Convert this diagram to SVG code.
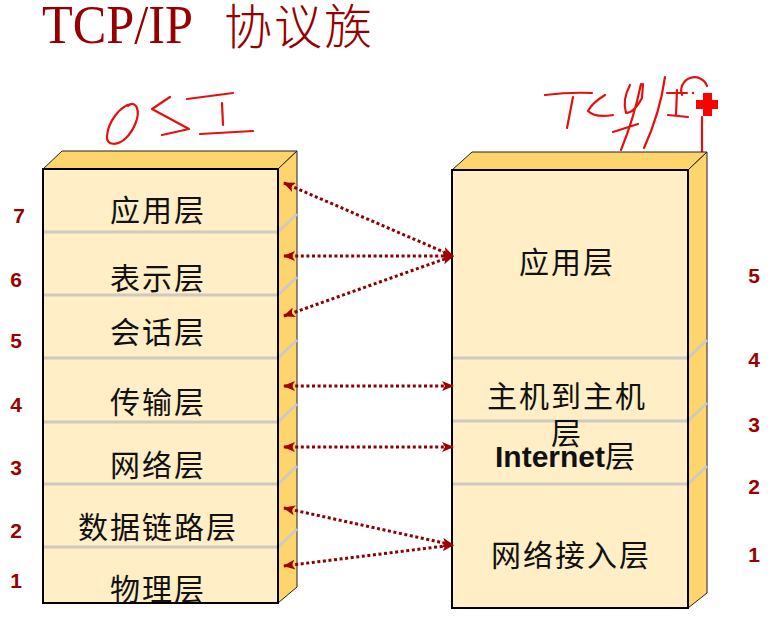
<svg xmlns="http://www.w3.org/2000/svg" width="784" height="621" viewBox="0 0 784 621">
<defs>
<style>
.front{fill:#FFEEC6;stroke:#000;stroke-width:2}
.face{fill:#FDD56C;stroke:#222;stroke-width:1}
.div{stroke:#CFCAC0;stroke-width:3;fill:none}
.lbl{font-family:"Noto Sans CJK SC","Noto Sans CJK JP",sans-serif;font-size:30px;fill:#111;text-anchor:middle;letter-spacing:2px}
.num{font-family:"Liberation Sans",Arial,sans-serif;font-weight:bold;font-size:21px;fill:#990000;text-anchor:middle}
.ink{fill:none;stroke:#E31010;stroke-width:2.2;stroke-linecap:round;stroke-linejoin:round}
.conn{fill:none;stroke:#8E0000;stroke-width:3;stroke-dasharray:3 2.6}
</style>
<marker id="ah" viewBox="0 0 12 10" refX="11" refY="5" markerWidth="12" markerHeight="10" markerUnits="userSpaceOnUse" orient="auto-start-reverse">
<path d="M0,0 L12,5 L0,10 L3,5 Z" fill="#A00000"/>
</marker>
</defs>

<g id="title">
<text x="42" y="43" font-family="Liberation Serif,serif" font-size="55" fill="#960000" textLength="151" lengthAdjust="spacingAndGlyphs">TCP/IP</text>
<text x="224" y="44" font-family="Noto Sans CJK SC,sans-serif" font-size="48" font-weight="300" fill="#960000" letter-spacing="2">协议族</text>
</g>

<g id="ink-annotations">
<path class="ink" d="M131,104 C120,106 108,122 107,136 C106,146 118,146 126,138 C134,130 140,116 137,108 C135,103 131,103 128,106"/>
<path class="ink" d="M170,97 L152,109 L189,129 L162,135"/>
<path class="ink" d="M187,99 L233,93 M222,103 L223,125 M200,134 L253,131"/>
<path class="ink" d="M545,95 Q570,92 592,93 M573,97 L567,128"/>
<path class="ink" d="M605,95 Q592,103 588,111 Q595,118 613,115"/>
<path class="ink" d="M630,85 Q622,100 626,113 Q634,113 642,98 L643,84 M641,84 Q634,118 621,150 M613,132 L638,124"/>
<path class="ink" d="M665,77 Q660,113 644,148"/>
<path class="ink" d="M667,93 L687,93 M677,90 L676,115 M668,115 L688,117"/>
<path class="ink" d="M682,95 A13,13 0 1,1 707,86"/>
<circle cx="693" cy="93" r="1.2" fill="#E31010"/>
<path class="ink" d="M702,117 L702,152"/>
<rect x="703" y="93" width="9" height="23" fill="#FF0000"/>
<rect x="696" y="100" width="22" height="9" fill="#FF0000"/>
</g>

<g id="osi-stack">
<polygon class="face" points="43,169 62,151 297,151 278,169"/>
<polygon class="face" points="278,169 297,151 297,587 278,603"/>
<rect class="front" x="43" y="169" width="235" height="434"/>
<path class="div" d="M44,232 H278 L297,214 M44,295 H278 L297,277 M44,358 H278 L297,340 M44,422 H278 L297,404 M44,484 H278 L297,466 M44,547 H278 L297,529"/>
<rect x="43" y="169" width="235" height="434" fill="none" stroke="#000" stroke-width="2"/>
</g>
<g id="osi-7"><text class="lbl" x="158" y="221">应用层</text></g>
<g id="osi-6"><text class="lbl" x="158" y="289">表示层</text></g>
<g id="osi-5"><text class="lbl" x="158" y="343">会话层</text></g>
<g id="osi-4"><text class="lbl" x="158" y="413">传输层</text></g>
<g id="osi-3"><text class="lbl" x="158" y="476">网络层</text></g>
<g id="osi-2"><text class="lbl" x="158" y="538">数据链路层</text></g>
<g id="osi-1"><text class="lbl" x="158" y="600">物理层</text></g>

<g id="tcpip-stack">
<polygon class="face" points="452,170 472,152 707,152 688,170"/>
<polygon class="face" points="688,170 707,152 707,593 688,608"/>
<rect class="front" x="452" y="170" width="236" height="438"/>
<path class="div" d="M453,358 H688 L707,340 M453,421 H688 L707,403 M453,484 H688 L707,466"/>
<rect x="452" y="170" width="236" height="438" fill="none" stroke="#000" stroke-width="2"/>
</g>
<g id="tcpip-app"><text class="lbl" x="567" y="273">应用层</text></g>
<g id="tcpip-host"><text class="lbl" x="567" y="407">主机到主机</text><text class="lbl" x="567" y="444">层</text></g>
<g id="tcpip-internet"><text x="565" y="467" text-anchor="middle" fill="#111"><tspan font-family="Liberation Sans,Arial,sans-serif" font-weight="bold" font-size="30">Internet</tspan><tspan font-family="Noto Sans CJK SC,sans-serif" font-size="30">层</tspan></text></g>
<g id="tcpip-net"><text class="lbl" x="571" y="566">网络接入层</text></g>

<g id="connectors">
<path class="conn" d="M284,183 L453,256" marker-start="url(#ah)" marker-end="url(#ah)"/>
<path class="conn" d="M284,256 L453,256" marker-start="url(#ah)" marker-end="url(#ah)"/>
<path class="conn" d="M284,316 L453,256" marker-start="url(#ah)" marker-end="url(#ah)"/>
<path class="conn" d="M284,386 L453,386" marker-start="url(#ah)" marker-end="url(#ah)"/>
<path class="conn" d="M284,447 L453,447" marker-start="url(#ah)" marker-end="url(#ah)"/>
<path class="conn" d="M284,508 L453,545" marker-start="url(#ah)" marker-end="url(#ah)"/>
<path class="conn" d="M284,566 L453,545" marker-start="url(#ah)" marker-end="url(#ah)"/>
</g>

<g id="numbers">
<text class="num" x="19" y="223">7</text>
<text class="num" x="16" y="287">6</text>
<text class="num" x="16" y="348">5</text>
<text class="num" x="16" y="412">4</text>
<text class="num" x="16" y="475">3</text>
<text class="num" x="16" y="538">2</text>
<text class="num" x="16" y="588">1</text>
<text class="num" x="754" y="283">5</text>
<text class="num" x="754" y="367">4</text>
<text class="num" x="754" y="432">3</text>
<text class="num" x="754" y="494">2</text>
<text class="num" x="754" y="562">1</text>
</g>
</svg>
